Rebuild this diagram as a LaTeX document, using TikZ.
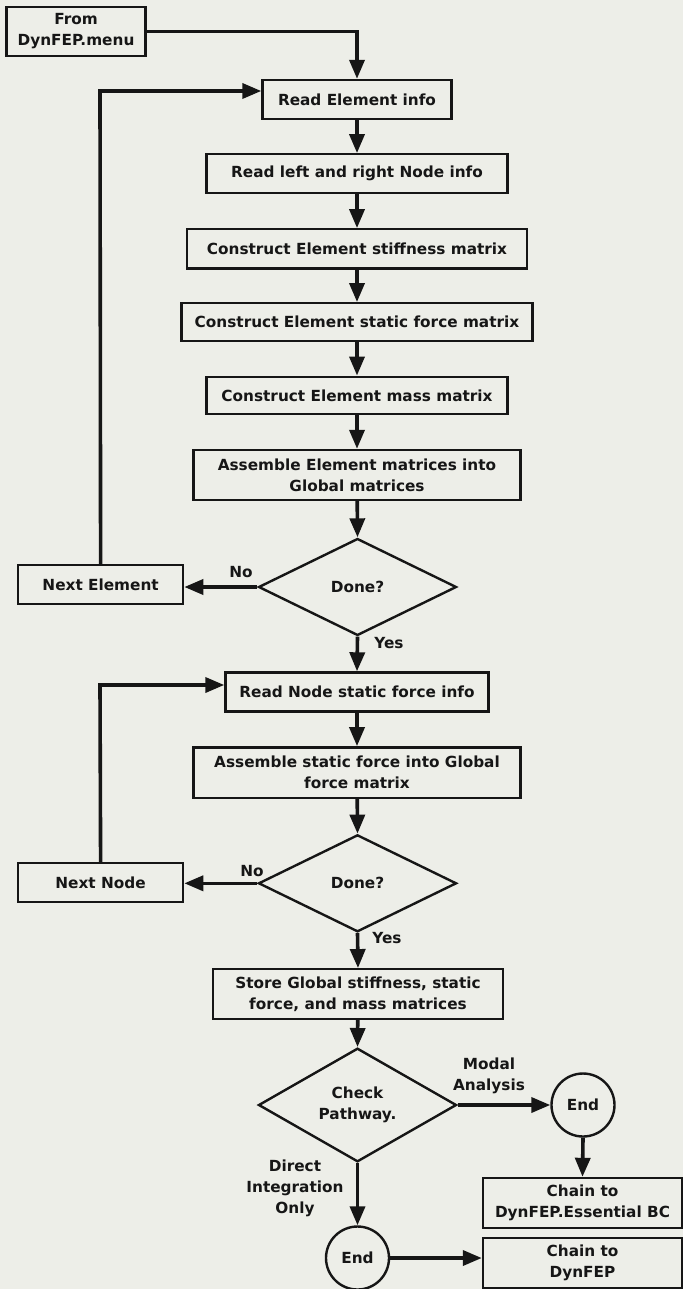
\documentclass[tikz,border=0pt]{standalone}
\usepackage{fontspec}
\setmainfont{DejaVu Sans}
\usetikzlibrary{shapes.geometric,arrows.meta}
\definecolor{paper}{RGB}{237,238,232}
\definecolor{ink}{RGB}{22,22,22}
\begin{document}
\begin{tikzpicture}[x=1pt,y=-1pt,
  every node/.style={font=\fontsize{15.3}{21}\selectfont\bfseries, text=ink},
  box/.style={rectangle, draw=ink, line width=2.4pt, inner sep=0pt, align=center},
  decision/.style={diamond, draw=ink, line width=2.4pt, inner sep=0pt, align=center,
                   minimum width=198pt, minimum height=97pt},
  terminal/.style={circle, draw=ink, line width=2.4pt, inner sep=0pt, minimum size=63pt},
  flow/.style={draw=ink, line width=3.6pt, -{Triangle[length=19pt,width=15pt]}},
  tag/.style={align=center}
]
\fill[paper] (0,0) rectangle (683,1289);
\useasboundingbox (0,0) rectangle (683,1289);

% --- element loop ---
\node[box, minimum width=139pt, minimum height=49pt] (from) at (76,31.4) {From\\DynFEP.menu};
\node[box, minimum width=189pt, minimum height=39pt] (readel) at (357,99.5) {Read Element info};
\node[box, minimum width=301pt, minimum height=39pt] (readlr) at (357,173.8) {Read left and right Node info};
\node[box, minimum width=340pt, minimum height=39pt] (stiff) at (357,248.8) {Construct Element stiffness matrix};
\node[box, minimum width=351pt, minimum height=37.5pt] (static) at (357,322) {Construct Element static force matrix};
\node[box, minimum width=301pt, minimum height=37.5pt] (mass) at (357,395.5) {Construct Element mass matrix};
\node[box, minimum width=327pt, minimum height=50pt] (asmel) at (357,475) {Assemble Element matrices into\\Global matrices};
\node[decision] (done1) at (357.5,587) {Done?};
\node[box, minimum width=165pt, minimum height=38.5pt] (nextel) at (100.6,584.5) {Next Element};

% --- node loop ---
\node[box, minimum width=263pt, minimum height=39pt] (readnode) at (357,692) {Read Node static force info};
\node[box, minimum width=327pt, minimum height=50.5pt] (asmf) at (357,772.6) {Assemble static force into Global\\force matrix};
\node[decision] (done2) at (357.5,883.3) {Done?};
\node[box, minimum width=165pt, minimum height=38.5pt] (nextnode) at (100.6,882.5) {Next Node};

% --- storage and exit paths ---
\node[box, minimum width=290pt, minimum height=49.5pt] (store) at (358,994) {Store Global stiffness, static\\force, and mass matrices};
\node[decision] (check) at (357.5,1105) {Check\\Pathway.};
\node[terminal] (end1) at (583,1105) {End};
\node[box, minimum width=199pt, minimum height=50pt] (chainbc) at (582.5,1203) {Chain to\\DynFEP.Essential BC};
\node[terminal] (end2) at (357.5,1258) {End};
\node[box, minimum width=199pt, minimum height=50pt] (chain) at (582.5,1263) {Chain to\\DynFEP};

% --- labels ---
\node[tag] (no1) at (241,572) {No};
\node[tag] (yes1) at (389,643) {Yes};
\node[tag] (no2) at (252,871) {No};
\node[tag] (yes2) at (387,938) {Yes};
\node[tag] (modal) at (489,1076) {Modal\\Analysis};
\node[tag] (direct) at (295,1188) {Direct\\Integration\\Only};

% --- connectors ---
\draw[flow] (from.east) -| (readel.north);
\draw[flow] (readel) -- (readlr);
\draw[flow] (readlr) -- (stiff);
\draw[flow] (stiff) -- (static);
\draw[flow] (static) -- (mass);
\draw[flow] (mass) -- (asmel);
\draw[flow] (asmel) -- (done1.north);
\draw[flow] (done1.west) -- (nextel.east |- done1.west);
\coordinate (loopA) at (100,91);
\draw[flow] (nextel.north) -- (loopA) -- (loopA -| readel.west);
\draw[flow] (done1.south) -- (readnode.north);
\draw[flow] (readnode) -- (asmf);
\draw[flow] (asmf) -- (done2.north);
\draw[flow] (done2.west) -- (nextnode.east |- done2.west);
\coordinate (loopB) at (100,685);
\draw[flow] (nextnode.north) -- (loopB) -- (loopB -| readnode.west);
\draw[flow] (done2.south) -- (store.north);
\draw[flow] (store) -- (check.north);
\draw[flow] (check.east) -- (end1.west);
\draw[flow] (end1.south) -- (chainbc.north);
\draw[flow] (check.south) -- (end2.north);
\draw[flow] (end2.east) -- (end2.east -| chain.west);
\end{tikzpicture}
\end{document}
